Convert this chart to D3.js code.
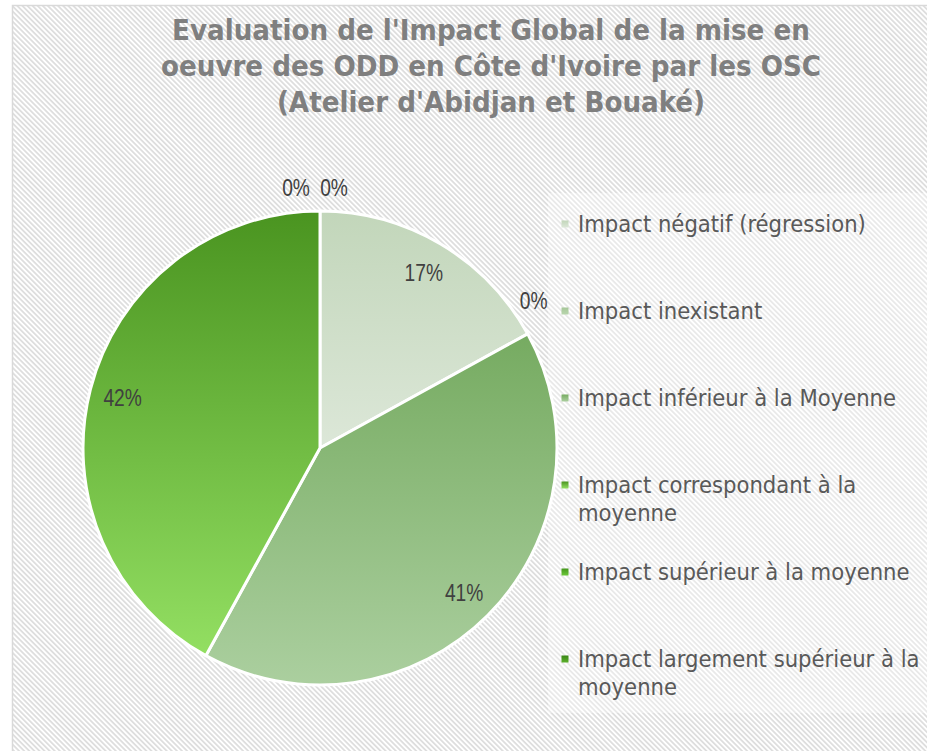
<!DOCTYPE html>
<html><head><meta charset="utf-8">
<script src="https://cdn.jsdelivr.net/npm/d3@7"></script>
<style>body{margin:0;background:#fff;overflow:hidden}</style>
</head><body><svg id="c" width="927" height="751"></svg>
<script>
const categories = [
  "Impact négatif (régression)",
  "Impact inexistant",
  "Impact inférieur à la Moyenne",
  "Impact correspondant à la moyenne",
  "Impact supérieur à la moyenne",
  "Impact largement supérieur à la moyenne"
];
const values = [17, 0, 41, 42, 0, 0];
const titleLines = [
  "Evaluation de l'Impact Global de la mise en",
  "oeuvre des ODD en Côte d'Ivoire par les OSC",
  "(Atelier d'Abidjan et Bouaké)"
];
const colorTop    = ["#c2d6ba", "#a6c799", "#76ab61", "#4a9420", "#44961c", "#3a8616"];
const colorBottom = ["#dce7d8", "#b9d6ae", "#abcf9f", "#93df62", "#6cc83a", "#5cb02c"];

const svg = d3.select("#c");
const defs = svg.append("defs");

const pat = defs.append("pattern").attr("id","stripes")
  .attr("patternUnits","userSpaceOnUse").attr("width",3.6).attr("height",3.6)
  .attr("patternTransform","rotate(-45)");
pat.append("rect").attr("width",3.6).attr("height",3.6).attr("fill","#ffffff");
pat.append("rect").attr("width",1.8).attr("height",3.6).attr("fill","#dedede");

categories.forEach((c,i)=>{
  const g = defs.append("linearGradient").attr("id","g"+i)
    .attr("x1",0).attr("y1",0).attr("x2",0).attr("y2",1);
  g.append("stop").attr("offset","0%").attr("stop-color",colorTop[i]);
  g.append("stop").attr("offset","100%").attr("stop-color",colorBottom[i]);
});

svg.append("rect").attr("x",12.5).attr("y",5.5).attr("width",940).attr("height",780)
  .attr("fill","url(#stripes)").attr("stroke","#d9d9d9").attr("stroke-width",1.5);

// title
const tFont = "'DejaVu Sans Condensed','DejaVu Sans',sans-serif";
const title = svg.append("g");
const titleBase = [40, 76, 112];
titleLines.forEach((t,i)=>{
  title.append("text").attr("x",491).attr("y",titleBase[i]).attr("text-anchor","middle")
    .attr("font-family",tFont).attr("font-weight","bold").attr("font-size",28)
    .attr("fill","#7f7f7f").text(t);
});
{
  const n = title.select("text").node();
  const w = n.getComputedTextLength();
  const fs = 28 * 638 / w;
  title.selectAll("text").attr("font-size",fs);
}

svg.append("rect").attr("x",548).attr("y",193).attr("width",379).attr("height",520)
  .attr("fill","#ffffff").attr("opacity",0.35);

// pie
const cx = 320, cy = 448, R = 237;
const pie = d3.pie().sort(null).value(d=>d);
const arcs = pie(values);
const arc = d3.arc().innerRadius(0).outerRadius(R);
const gp = svg.append("g").attr("transform",`translate(${cx},${cy})`);
gp.selectAll("path").data(arcs).join("path")
  .attr("d",arc).attr("fill",(d,i)=>"url(#g"+i+")")
  .attr("stroke","#ffffff").attr("stroke-width",3).attr("stroke-linejoin","round")
  .attr("display",d=>d.value>0?null:"none");

// data labels
const inArc = d3.arc().innerRadius(R*0.86).outerRadius(R*0.86);
const outArc = d3.arc().innerRadius(R+24).outerRadius(R+24);
const zeroNudge = {1:[-15,-22], 4:[-24,0], 5:[14,0]};
gp.selectAll("text.lbl").data(arcs).join("text").attr("class","lbl")
  .attr("transform",(d,i)=>{
    let p;
    if (d.value>0) p = inArc.centroid(d);
    else {
      p = outArc.centroid(d);
      const n = zeroNudge[i]||[0,0];
      p = [p[0]+n[0], p[1]+n[1]];
    }
    return `translate(${p[0]},${p[1]}) scale(0.8,1)`;
  })
  .attr("text-anchor","middle").attr("dy","0.36em")
  .attr("font-family","'Liberation Sans',Arial,sans-serif").attr("font-size",24)
  .attr("fill","#404040").text(d=>d.value+"%");

// legend
const lFont = "'DejaVu Sans Condensed','DejaVu Sans',sans-serif";
const lg = svg.append("g");
let lfs = 20;
{
  const tmp = lg.append("text").attr("font-family",lFont).attr("font-size",20).text(categories[0]);
  lfs = 20 * 288 / tmp.node().getComputedTextLength();
  tmp.remove();
}
const maxW = 352;
categories.forEach((c,i)=>{
  const y = 232 + i*87;
  lg.append("rect").attr("x",561.5).attr("y",y-11.5).attr("width",7).attr("height",7)
    .attr("fill","url(#g"+i+")");
  const t = lg.append("text").attr("x",578).attr("y",y).attr("font-family",lFont)
    .attr("font-size",lfs).attr("fill","#595959");
  const words = c.split(" ");
  let line = [], ts = t.append("tspan").attr("x",578).attr("y",y), lineNo = 0;
  words.forEach(w=>{
    line.push(w);
    ts.text(line.join(" "));
    if (ts.node().getComputedTextLength() > maxW && line.length>1) {
      line.pop(); ts.text(line.join(" "));
      line = [w]; lineNo++;
      ts = t.append("tspan").attr("x",578).attr("y",y+lineNo*28).text(w);
    }
  });
});
</script></body></html>
